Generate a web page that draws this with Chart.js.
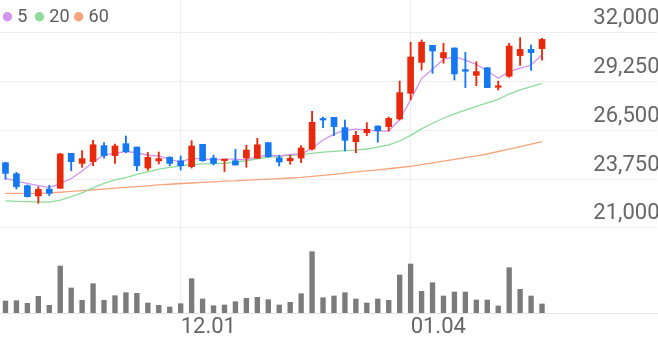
<!DOCTYPE html>
<html><head><meta charset="utf-8">
<script src="https://cdn.jsdelivr.net/npm/chart.js@4.4.0/dist/chart.umd.min.js"></script>
<style>html,body{margin:0;padding:0;background:#fff;} #wrap{width:658px;height:342px;position:relative;}</style>
</head><body><div id="wrap"><canvas id="c"></canvas></div>
<script>
// ---- data ----
const dates = ['11.09','11.10','11.13','11.14','11.15','11.16','11.17','11.20','11.21','11.22',
  '11.23','11.24','11.27','11.28','11.29','11.30','12.01','12.04','12.05','12.06',
  '12.07','12.08','12.11','12.12','12.13','12.14','12.15','12.18','12.19','12.20',
  '12.21','12.22','12.26','12.27','12.28','01.02','01.03','01.04','01.05','01.08',
  '01.09','01.10','01.11','01.12','01.15','01.16','01.17','01.18','01.19','01.22'];
const tickLabels = ['12.01','01.04'];
const priceTicks = [21000, 23750, 26500, 29250, 32000];
const maNames = ['5','20','60'];

const open  = [24670,24050,23380,22800,23190,23230,25200,24630,24730,25630,25070,25740,25550,24370,24770,24970,24780,24450,25700,24930,24790,24780,24930,24920,25800,24950,24780,24930,25440,27130,27220,26640,25850,26360,26730,26700,27130,28570,30310,31270,30570,31120,29900,29580,30010,28910,29530,30690,31040,31080];
const high  = [24700,24130,23420,23320,23400,25200,25200,25350,25930,25800,25720,26170,25550,25250,25270,25010,25050,25910,25700,25100,24860,25420,25650,26040,25800,25080,25100,25630,27560,27240,27220,27070,26430,26920,26750,27240,29260,31440,31570,31270,31380,31120,30870,30350,30010,29260,31380,31700,31290,31660];
const low   = [23740,23190,22740,22390,22820,23230,24220,24410,24500,24930,24630,25230,24220,24240,24600,24500,24260,24370,24750,24540,24170,24540,24410,24920,24970,24480,24580,24670,25380,26640,26190,25330,25230,26190,25820,26450,27070,28200,29880,29690,30260,29320,28890,29000,28890,28760,29470,30140,29860,30440];
const close = [24070,23320,22760,23170,22950,25160,24730,24900,25680,25070,25610,25290,24500,24970,24900,24630,24500,25610,24780,24630,24820,24540,25380,25680,25010,24710,24920,25500,26940,27070,26700,25930,26210,26550,26470,27160,28610,30610,31440,30950,30860,29660,29810,29790,28890,28960,31230,31040,30860,31600];
const volume = [120,123,97,167,77,470,250,127,293,127,173,203,197,100,77,60,93,343,140,73,80,113,147,157,133,80,107,193,613,153,170,203,140,100,140,127,380,490,217,303,170,210,210,130,130,70,453,237,170,90];
const ma5  = [23790,23640,23510,23380,23270,23490,23780,24200,24700,25110,25190,25300,25230,25090,25050,24860,24700,24920,24880,24830,24870,24870,24830,25010,25090,25060,25140,25160,25480,25950,26280,26500,26560,26510,26450,26450,27110,28200,29400,29920,30480,30630,30440,30200,29840,29420,29790,29980,30160,30740];
const ma20 = [22520,22500,22480,22470,22460,22570,22760,22980,23260,23510,23700,23830,24020,24160,24310,24410,24500,24560,24600,24620,24640,24710,24780,24880,24990,25030,25090,25120,25200,25260,25310,25350,25380,25440,25540,25670,25890,26210,26570,26890,27170,27410,27630,27840,28030,28230,28530,28760,28940,29130];
const ma60 = [22950,22950,22950,22950,22970,23010,23060,23100,23150,23190,23240,23280,23330,23370,23420,23460,23500,23530,23560,23590,23630,23650,23690,23720,23750,23780,23810,23840,23900,23960,24020,24090,24150,24210,24270,24330,24400,24460,24560,24660,24760,24860,24960,25060,25160,25300,25440,25580,25710,25850];
const emptySlots = 10;

// ---- styling ----
const UP = '#e8290b', DOWN = '#1677f2';
const MA_COLORS = ['#d393ef', '#8edb9b', '#f5a47d'];
const labels = dates.concat(Array(emptySlots).fill(''));
const isUp = close.map((c, i) => c >= open[i]);
const candleColor = ctx => (isUp[ctx.dataIndex] ? UP : DOWN);

const legendPlugin = {
  id: 'maLegend',
  afterDraw(chart) {
    const ctx = chart.ctx;
    const xs = [2.7, 34.7, 74];
    ctx.save();
    ctx.font = '18px Roboto';
    ctx.textBaseline = 'middle';
    ctx.textAlign = 'left';
    let k = 0;
    chart.data.datasets.forEach(ds => {
      if (!ds.isMA) return;
      const x = xs[k++];
      ctx.fillStyle = ds.borderColor;
      ctx.beginPath();
      ctx.arc(x + 4.7, 16.8, 4.7, 0, Math.PI * 2);
      ctx.fill();
      ctx.fillStyle = '#5c5c5c';
      ctx.fillText(ds.label, x + 14.6, 17.2);
    });
    ctx.restore();
  }
};

const maDatasets = [ma5, ma20, ma60].map((d, i) => ({
  type: 'line', label: maNames[i], data: d, isMA: true,
  borderColor: MA_COLORS[i], borderWidth: 1.3, pointRadius: 0, tension: 0,
  yAxisID: 'y', order: 10 + i
}));

new Chart(document.getElementById('c'), {
  type: 'bar',
  data: {
    labels,
    datasets: [
      { label: 'body', data: open.map((o, i) => [o, close[i]]), backgroundColor: candleColor,
        barThickness: 6, grouped: false, minBarLength: 1.5, yAxisID: 'y', order: 1 },
      { label: 'wick', data: low.map((l, i) => [l, high[i]]), backgroundColor: candleColor,
        barThickness: 1.2, grouped: false, yAxisID: 'y', order: 2 },
      { label: 'volume', data: volume, backgroundColor: '#7b7b7b',
        barThickness: 4.7, grouped: false, yAxisID: 'v', order: 3 },
      ...maDatasets
    ]
  },
  options: {
    responsive: true, maintainAspectRatio: false, animation: false,
    layout: { padding: { left: 0, right: 1, top: 0, bottom: 0 } },
    plugins: { legend: { display: false }, tooltip: { enabled: false } },
    scales: {
      x: {
        offset: true,
        grid: { offset: false, color: '#eeeeee', drawTicks: false },
        border: { display: true, color: '#e3e3e3' },
        afterBuildTicks: s => { s.ticks = tickLabels.map(t => ({ value: labels.indexOf(t) })); },
        afterFit: s => { s.paddingLeft = 0; s.paddingRight = 0; },
        ticks: { autoSkip: false, maxRotation: 0, align: 'start', padding: 1.3,
          color: '#666666', font: { family: 'Roboto', size: 22 },
          callback: function (v) { return this.getLabelForValue(v); } }
      },
      y: {
        position: 'right', min: 16222, max: 33816,
        afterBuildTicks: s => { s.ticks = priceTicks.map(v => ({ value: v })); },
        afterFit: s => { s.width = 0; s.paddingTop = 0; s.paddingBottom = 0; },
        grid: { color: '#eeeeee', drawTicks: false },
        border: { display: false },
        ticks: { mirror: true, padding: 2.5, labelOffset: -14, color: '#666666',
          font: { family: 'Roboto', size: 22 },
          callback: v => v.toLocaleString('en-US') }
      },
      v: { display: false, min: 0, max: 3130 }
    }
  },
  plugins: [legendPlugin]
});
</script></body></html>
